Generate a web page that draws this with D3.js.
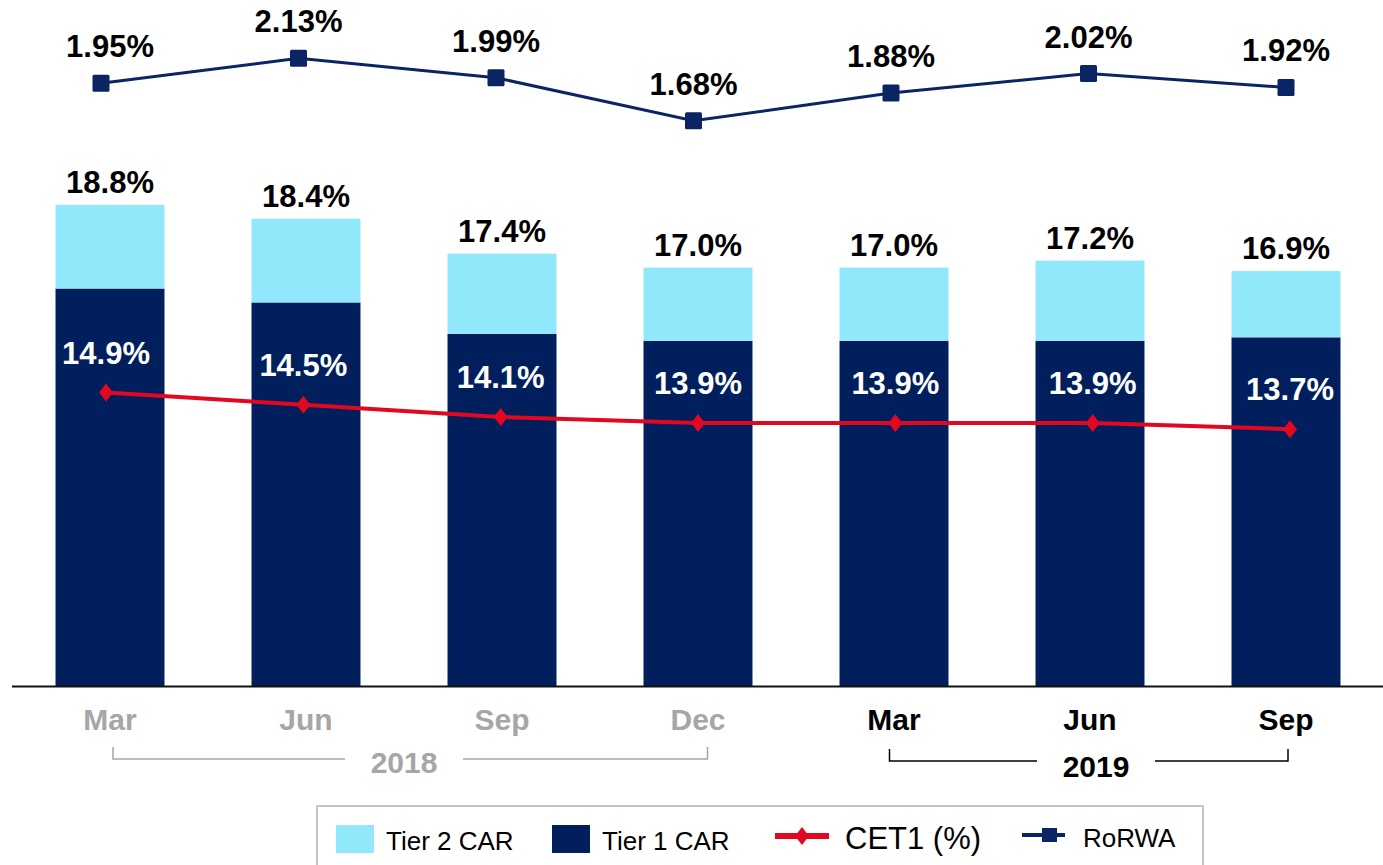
<!DOCTYPE html>
<html>
<head>
<meta charset="utf-8">
<script src="https://cdn.jsdelivr.net/npm/d3@7"></script>
<style>
  body { margin: 0; background: #fff; }
  svg { display: block; font-family: "Liberation Sans", Arial, sans-serif; }
</style>
</head>
<body>
<script>
// quarters shown on the axis
var quarters = ["Mar-18", "Jun-18", "Sep-18", "Dec-18", "Mar-19", "Jun-19", "Sep-19"];
var monthLabels = ["Mar", "Jun", "Sep", "Dec", "Mar", "Jun", "Sep"];
var years = [
  { label: "2018", from: 0, to: 3, color: "#a6a6a6" },
  { label: "2019", from: 4, to: 6, color: "#000000" }
];

// series values (%)
var tier1 = [16.4, 16.0, 15.1, 14.9, 14.9, 14.9, 15.0];
var tier2 = [2.4, 2.4, 2.3, 2.1, 2.1, 2.3, 1.9];
var cet1 = [14.9, 14.5, 14.1, 13.9, 13.9, 13.9, 13.7];
var rorwa = [1.95, 2.13, 1.99, 1.68, 1.88, 2.02, 1.92];

var width = 1383, height = 865;
var navy = "#001f5c", cyan = "#91e8fb", red = "#e2081f", lineNavy = "#0b2463";

var svg = d3.select("body").append("svg")
    .attr("width", width)
    .attr("height", height);

// scales
var x = d3.scaleBand()
    .domain(quarters)
    .range([12, 1384])
    .paddingInner(0.444)
    .paddingOuter(0.222);

var xRo = d3.scalePoint().domain(quarters).range([101, 1286]);
var xCet = d3.scalePoint().domain(quarters).range([106, 1290]);

//bars start from a 5% floor
var yBar = d3.scaleLinear().domain([5, 20]).range([686, 163]).clamp(true);
var yCet = d3.scaleLinear().domain([12, 16]).range([481, 359]);
var yRo = d3.scaleLinear().domain([1.5, 2.2]).range([145.8, 48.6]);

var rows = quarters.map(function(q, i){
  return { q: q, tier1: tier1[i], tier2: tier2[i] };
});
var stacked = d3.stack().keys(["tier1", "tier2"])(rows);
var colors = { tier1: navy, tier2: cyan };

// stacked bars
svg.selectAll(".layer")
    .data(stacked)
    .enter().append("g")
    .attr("class", "layer")
    .attr("fill", function(d){ return colors[d.key]; })
  .selectAll("rect")
    .data(function(d){ return d; })
    .enter().append("rect")
    .attr("x", function(d){ return x(d.data.q); })
    .attr("width", x.bandwidth())
    .attr("y", function(d){ return yBar(d[1]); })
    .attr("height", function(d){ return yBar(d[0]) - yBar(d[1]); });

// total labels above bars
svg.selectAll(".total")
    .data(rows)
    .enter().append("text")
    .attr("class", "total")
    .attr("x", function(d){ return x(d.q) + x.bandwidth() / 2; })
    .attr("y", function(d){ return yBar(d.tier1 + d.tier2) - 12; })
    .attr("text-anchor", "middle")
    .attr("font-size", 31)
    .attr("font-weight", "bold")
    .text(function(d){ return (d.tier1 + d.tier2).toFixed(1) + "%"; });

// axis baseline
svg.append("line")
    .attr("x1", 12).attr("x2", width)
    .attr("y1", 686.5).attr("y2", 686.5)
    .attr("stroke", "#111")
    .attr("stroke-width", 2);

// CET1 line
var cetLine = d3.line()
    .x(function(d, i){ return xCet(quarters[i]); })
    .y(function(d){ return yCet(d); });

svg.append("path")
    .datum(cet1)
    .attr("d", cetLine)
    .attr("fill", "none")
    .attr("stroke", red)
    .attr("stroke-width", 4);

var diamond = "M0,-9L7,0L0,9L-7,0Z";
svg.selectAll(".cetPt")
    .data(cet1)
    .enter().append("path")
    .attr("class", "cetPt")
    .attr("d", diamond)
    .attr("fill", red)
    .attr("transform", function(d, i){ return "translate(" + xCet(quarters[i]) + "," + yCet(d) + ")"; });

svg.selectAll(".cetLbl")
    .data(cet1)
    .enter().append("text")
    .attr("class", "cetLbl")
    .attr("x", function(d, i){ return xCet(quarters[i]); })
    .attr("y", function(d){ return yCet(d) - 29; })
    .attr("text-anchor", "middle")
    .attr("font-size", 31)
    .attr("font-weight", "bold")
    .attr("fill", "#fff")
    .text(function(d){ return d.toFixed(1) + "%"; });

// RoRWA line
var roLine = d3.line()
    .x(function(d, i){ return xRo(quarters[i]); })
    .y(function(d){ return yRo(d); });

svg.append("path")
    .datum(rorwa)
    .attr("d", roLine)
    .attr("fill", "none")
    .attr("stroke", lineNavy)
    .attr("stroke-width", 3);

svg.selectAll(".roPt")
    .data(rorwa)
    .enter().append("rect")
    .attr("class", "roPt")
    .attr("x", function(d, i){ return xRo(quarters[i]) - 8.5; })
    .attr("y", function(d){ return yRo(d) - 8.5; })
    .attr("width", 17).attr("height", 17)
    .attr("rx", 1.5)
    .attr("fill", lineNavy);

// first label sits a bit right of its marker in the original
svg.selectAll(".roLbl")
    .data(rorwa)
    .enter().append("text")
    .attr("class", "roLbl")
    .attr("x", function(d, i){ return i === 0 ? x(quarters[0]) + x.bandwidth() / 2 : xRo(quarters[i]); })
    .attr("y", function(d){ return yRo(d) - 26; })
    .attr("text-anchor", "middle")
    .attr("font-size", 31)
    .attr("font-weight", "bold")
    .text(function(d){ return d.toFixed(2) + "%"; });

// month labels
svg.selectAll(".month")
    .data(quarters)
    .enter().append("text")
    .attr("class", "month")
    .attr("x", function(d){ return x(d) + x.bandwidth() / 2; })
    .attr("y", 730)
    .attr("text-anchor", "middle")
    .attr("font-size", 30)
    .attr("font-weight", "bold")
    .attr("fill", function(d, i){ return i < 4 ? "#a6a6a6" : "#000"; })
    .text(function(d, i){ return monthLabels[i]; });

// year brackets (small nudges to match the hand-drawn brackets)
var bracketNudge = [
  { left: 3, right: 9.5, text: 404, y: 759 },
  { left: -4.5, right: 2, text: 1096, y: 761 }
];
years.forEach(function(yr, k){
  var n = bracketNudge[k];
  var x0 = x(quarters[yr.from]) + x.bandwidth() / 2 + n.left;
  var x1 = x(quarters[yr.to]) + x.bandwidth() / 2 + n.right;
  var g = svg.append("g");
  g.append("path")
      .attr("d", "M" + x0 + "," + (n.y - 12) + "V" + n.y + "H" + (n.text - 59))
      .attr("fill", "none").attr("stroke", yr.color).attr("stroke-width", 1.5);
  g.append("path")
      .attr("d", "M" + (n.text + 59) + "," + n.y + "H" + x1 + "V" + (n.y - 12))
      .attr("fill", "none").attr("stroke", yr.color).attr("stroke-width", 1.5);
  g.append("text")
      .attr("x", n.text)
      .attr("y", n.y + 14 + k * 2)
      .attr("text-anchor", "middle")
      .attr("font-size", 30)
      .attr("font-weight", "bold")
      .attr("fill", yr.color)
      .text(yr.label);
});

// legend
var legend = svg.append("g");
legend.append("rect")
    .attr("x", 317).attr("y", 806)
    .attr("width", 886).attr("height", 80)
    .attr("fill", "none")
    .attr("stroke", "#c4c4c4")
    .attr("stroke-width", 2);

legend.append("rect").attr("x", 336).attr("y", 825).attr("width", 38).attr("height", 28).attr("fill", cyan);
legend.append("text").attr("x", 386).attr("y", 850).attr("font-size", 26).text("Tier 2 CAR");

legend.append("rect").attr("x", 552).attr("y", 825).attr("width", 38).attr("height", 28).attr("fill", navy);
legend.append("text").attr("x", 602).attr("y", 850).attr("font-size", 26).text("Tier 1 CAR");

legend.append("line").attr("x1", 775).attr("x2", 829).attr("y1", 836).attr("y2", 836)
    .attr("stroke", red).attr("stroke-width", 6);
legend.append("path").attr("d", diamond).attr("fill", red).attr("transform", "translate(802,836)");
legend.append("text").attr("x", 845).attr("y", 849).attr("font-size", 31).text("CET1 (%)");

legend.append("line").attr("x1", 1022).attr("x2", 1065).attr("y1", 835).attr("y2", 835)
    .attr("stroke", lineNavy).attr("stroke-width", 4);
legend.append("rect").attr("x", 1042).attr("y", 828).attr("width", 15).attr("height", 14).attr("fill", lineNavy);
legend.append("text").attr("x", 1083).attr("y", 847).attr("font-size", 26).text("RoRWA");
</script>
</body>
</html>
